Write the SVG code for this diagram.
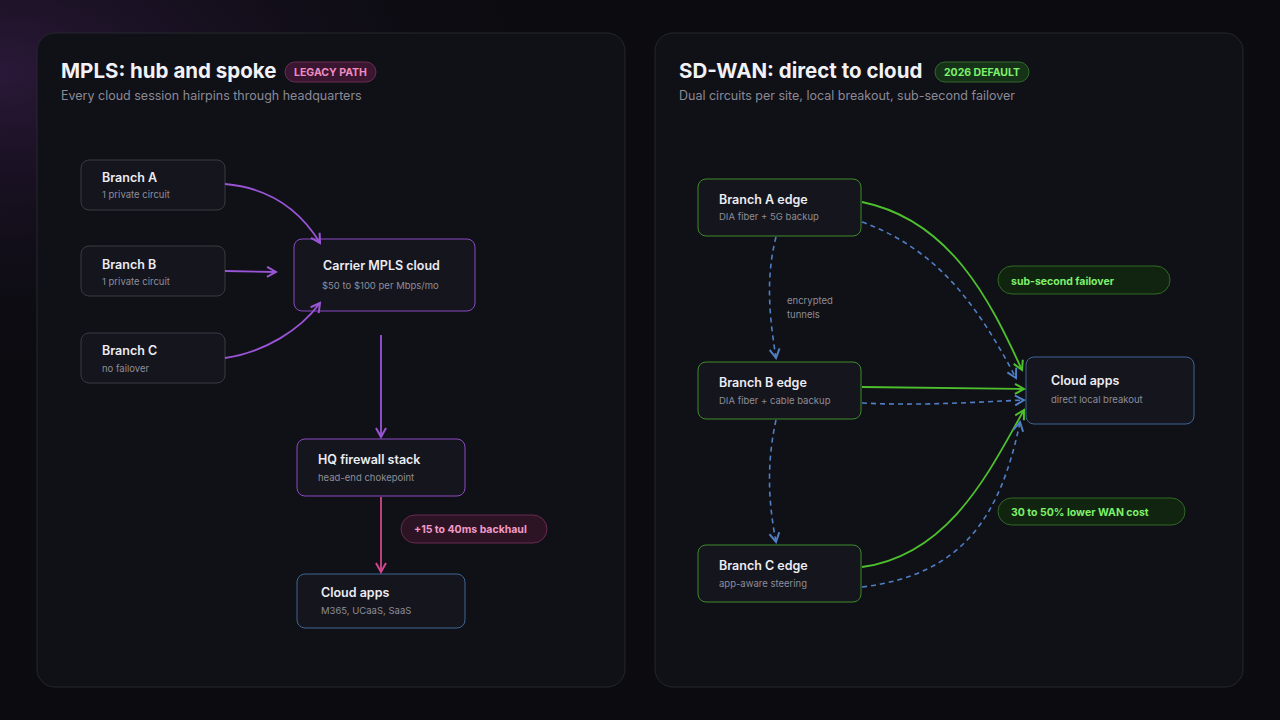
<svg xmlns="http://www.w3.org/2000/svg" width="1280" height="720" viewBox="0 0 1280 720">
<defs>
<radialGradient id="glow" cx="0" cy="0.1" r="0.45">
<stop offset="0" stop-color="#2a1838"/><stop offset="1" stop-color="#0b0b10" stop-opacity="0"/>
</radialGradient>
<marker id="mp" viewBox="0 0 12 12" refX="10" refY="6" markerWidth="12" markerHeight="12" markerUnits="userSpaceOnUse" orient="auto"><path d="M1,1 L10,6 L1,11" fill="none" stroke="#9a55d6" stroke-width="2"/></marker>
<marker id="mk" viewBox="0 0 12 12" refX="10" refY="6" markerWidth="12" markerHeight="12" markerUnits="userSpaceOnUse" orient="auto"><path d="M1,1 L10,6 L1,11" fill="none" stroke="#d0478c" stroke-width="2"/></marker>
<marker id="mg" viewBox="0 0 12 12" refX="10" refY="6" markerWidth="12" markerHeight="12" markerUnits="userSpaceOnUse" orient="auto"><path d="M1,1 L10,6 L1,11" fill="none" stroke="#4ec02e" stroke-width="2"/></marker>
<marker id="mb" viewBox="0 0 12 12" refX="10" refY="6" markerWidth="12" markerHeight="12" markerUnits="userSpaceOnUse" orient="auto"><path d="M1,1 L10,6 L1,11" fill="none" stroke="#4f7fc4" stroke-width="2"/></marker>
</defs>
<style>
text{font-family:Inter,"Noto Sans","Liberation Sans",sans-serif}
.panel{fill:#101017;stroke:#26262f;stroke-width:1}
.h{font-size:20.5px;font-weight:700;fill:#f1f1f6}
.sub{font-size:12.5px;fill:#8a8a96}
.n{fill:#15151d;rx:8}
.ng{stroke:#3a3a44}.np{stroke:#8a4bc4}.nb{stroke:#3f6595}.ngr{stroke:#3d8c2a}
.t{font-size:12.5px;font-weight:600;fill:#ececf2}
.s{font-size:9.5px;fill:#8d8d98}
.pp{stroke-width:1.8;fill:none}
.lab{font-size:9.5px;fill:#8d8d98}
.pill{font-size:10.5px;font-weight:700}
</style>
<rect width="1280" height="720" fill="#0b0b10"/>
<rect width="1280" height="720" fill="url(#glow)"/>
<rect class="panel" x="37" y="33" width="588" height="654" rx="18"/>
<rect class="panel" x="655" y="33" width="588" height="654" rx="18"/>
<text class="h" x="61" y="78">MPLS: hub and spoke</text>
<rect x="285" y="62" width="91" height="20" rx="10" fill="#3a1630" stroke="#6b2a55"/>
<text x="330.5" y="76" text-anchor="middle" font-size="10.5" font-weight="700" fill="#f08cc0">LEGACY PATH</text>
<text class="sub" x="61" y="100">Every cloud session hairpins through headquarters</text>
<text class="h" x="679" y="78">SD-WAN: direct to cloud</text>
<rect x="935" y="62" width="94" height="20" rx="10" fill="#16331a" stroke="#2e6a2a"/>
<text x="982" y="76" text-anchor="middle" font-size="10.5" font-weight="700" fill="#7ef06a">2026 DEFAULT</text>
<text class="sub" x="679" y="100">Dual circuits per site, local breakout, sub-second failover</text>
<g id="pill-backhaul"><rect x="401" y="515" width="146" height="28" rx="14" fill="#2c1424" stroke="#6b2a50"/><text class="pill" x="414" y="533" fill="#f39ac8">+15 to 40ms backhaul</text></g>
<g id="pill-failover"><rect x="998" y="266" width="172" height="28" rx="14" fill="#11240f" stroke="#2f6a25"/><text class="pill" x="1011" y="285" fill="#7ef06a">sub-second failover</text></g>
<g id="pill-cost"><rect x="998" y="498" width="187" height="27" rx="13.5" fill="#11240f" stroke="#2f6a25"/><text class="pill" x="1011" y="516" fill="#7ef06a">30 to 50% lower WAN cost</text></g>
<g id="branchA"><rect class="n ng" x="81" y="160" width="144" height="50"/><text class="t" x="102" y="182">Branch A</text><text class="s" x="102" y="198">1 private circuit</text></g>
<g id="branchB"><rect class="n ng" x="81" y="246" width="144" height="50"/><text class="t" x="102" y="269">Branch B</text><text class="s" x="102" y="285">1 private circuit</text></g>
<g id="branchC"><rect class="n ng" x="81" y="333" width="144" height="50"/><text class="t" x="102" y="355">Branch C</text><text class="s" x="102" y="372">no failover</text></g>
<g id="mpls"><rect class="n np" x="294" y="239" width="181" height="72"/><text class="t" x="323" y="270">Carrier MPLS cloud</text><text class="s" x="322" y="289">$50 to $100 per Mbps/mo</text></g>
<g id="hq"><rect class="n np" x="297" y="439" width="168" height="57"/><text class="t" x="318" y="464">HQ firewall stack</text><text class="s" x="318" y="481">head-end chokepoint</text></g>
<g id="cloudL"><rect class="n nb" x="297" y="574" width="168" height="54"/><text class="t" x="321" y="597">Cloud apps</text><text class="s" x="321" y="614">M365, UCaaS, SaaS</text></g>
<g id="edgeA"><rect class="n ngr" x="698" y="179" width="163" height="57"/><text class="t" x="719" y="204">Branch A edge</text><text class="s" x="719" y="220">DIA fiber + 5G backup</text></g>
<g id="edgeB"><rect class="n ngr" x="698" y="362" width="163" height="57"/><text class="t" x="719" y="387">Branch B edge</text><text class="s" x="719" y="404">DIA fiber + cable backup</text></g>
<g id="edgeC"><rect class="n ngr" x="698" y="545" width="163" height="57"/><text class="t" x="719" y="570">Branch C edge</text><text class="s" x="719" y="587">app-aware steering</text></g>
<g id="cloudR"><rect class="n nb" x="1026" y="357" width="168" height="67"/><text class="t" x="1051" y="385">Cloud apps</text><text class="s" x="1051" y="403">direct local breakout</text></g>
<g id="connectors">
<path class="pp" stroke="#9a55d6" d="M225,184 C270,188 300,210 320,243" marker-end="url(#mp)"/>
<path class="pp" stroke="#9a55d6" d="M225,271 L276,272" marker-end="url(#mp)"/>
<path class="pp" stroke="#9a55d6" d="M225,358 C265,352 300,330 320,303" marker-end="url(#mp)"/>
<path class="pp" stroke="#9a55d6" d="M381,335 L381,437" marker-end="url(#mp)"/>
<path class="pp" stroke="#d0478c" d="M381,497 L381,572" marker-end="url(#mk)"/>
<path class="pp" stroke="#4ec02e" d="M862,202 C950,220 990,300 1022,370" marker-end="url(#mg)"/>
<path class="pp" stroke="#4ec02e" d="M862,387 L1024,389" marker-end="url(#mg)"/>
<path class="pp" stroke="#4ec02e" d="M862,567 C950,555 990,470 1024,410" marker-end="url(#mg)"/>
<g stroke="#4f7fc4" stroke-dasharray="5,4" stroke-width="1.6" fill="none">
<path d="M862,222 C940,250 980,310 1016,378" marker-end="url(#mb)"/>
<path d="M862,403 C920,406 980,402 1024,400" marker-end="url(#mb)"/>
<path d="M862,587 C960,575 1000,520 1020,422" marker-end="url(#mb)"/>
<path d="M776,237 C765,280 770,320 776,358" marker-end="url(#mb)"/>
<path d="M776,420 C765,470 770,510 776,542" marker-end="url(#mb)"/>
</g>
<text class="lab" x="787" y="304">encrypted</text>
<text class="lab" x="787" y="318">tunnels</text>
</g>
</svg>
